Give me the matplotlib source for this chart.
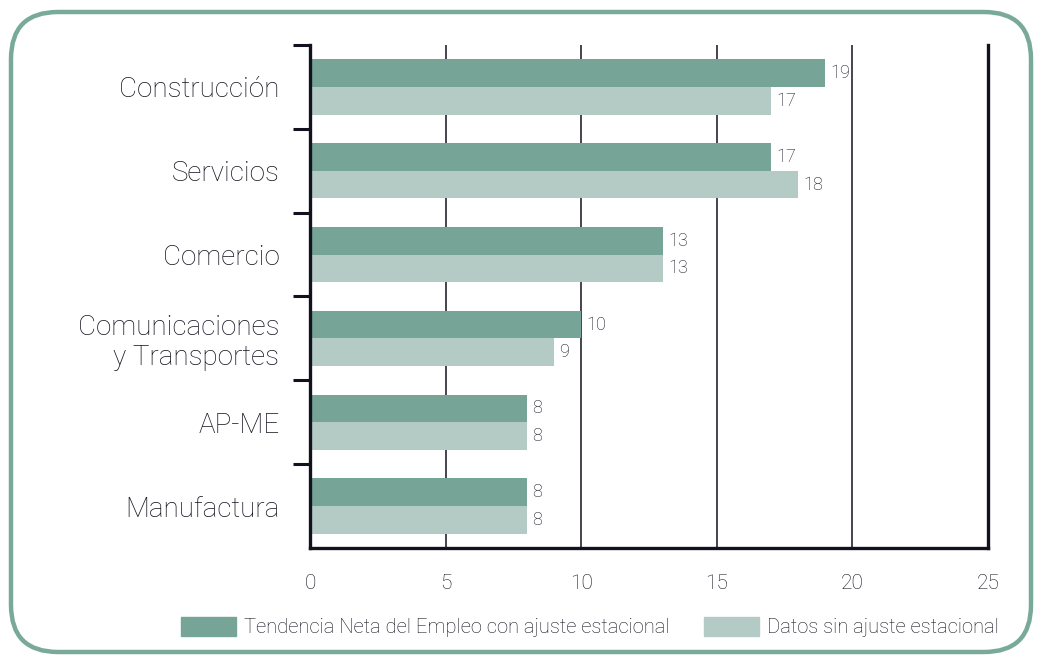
import numpy as np
import matplotlib
matplotlib.use('Agg')
import matplotlib.pyplot as plt
from matplotlib.patches import FancyBboxPatch, Patch

# data
categories = ['Construcción', 'Servicios', 'Comercio',
              'Comunicaciones\ny Transportes', 'AP-ME', 'Manufactura']
ajustado = [19, 17, 13, 10, 8, 8]
sin_ajuste = [17, 18, 13, 9, 8, 8]
series_names = ['Tendencia Neta del Empleo con ajuste estacional',
                'Datos sin ajuste estacional']
xticks = [0, 5, 10, 15, 20, 25]

dark = '#76a598'
light = '#b3cbc4'
ink = '#12121e'

plt.rcParams['font.family'] = ['Roboto', 'DejaVu Sans']
plt.rcParams['font.weight'] = 'light'

W, H = 1044, 663
fig = plt.figure(figsize=(W / 100, H / 100), dpi=100)

# rounded green frame
frame = FancyBboxPatch((11 / W, 11 / H), (1031 - 11) / W, (651 - 11) / H,
                       boxstyle='round,pad=0,rounding_size=0.045',
                       transform=fig.transFigure, fill=False,
                       edgecolor='#79a99a', linewidth=3.2,
                       mutation_aspect=W / H)
fig.patches.append(frame)

ax = fig.add_axes([310 / W, 1 - 548 / H, (988 - 310) / W, (548 - 45) / H])

y = np.arange(len(categories))
h = 0.33
ax.barh(y - h / 2, ajustado, height=h, color=dark, label=series_names[0])
ax.barh(y + h / 2, sin_ajuste, height=h, color=light, label=series_names[1])

for yi, v in zip(y, ajustado):
    ax.text(v + 0.2, yi - h / 2, str(v), va='center', ha='left',
            fontsize=13, color=ink)
for yi, v in zip(y, sin_ajuste):
    ax.text(v + 0.2, yi + h / 2, str(v), va='center', ha='left',
            fontsize=13, color=ink)

ax.set_xlim(0, 25)
ax.set_ylim(len(categories) - 0.5, -0.5)

# vertical grid lines
for xv in xticks[1:-1]:
    ax.axvline(xv, color=ink, linewidth=1.1, zorder=0)

ax.set_xticks(xticks)
ax.set_xticklabels([str(t) for t in xticks], fontsize=15, color=ink)
ax.tick_params(axis='x', length=0, pad=19)

# separator ticks between categories (none at the bottom corner)
ax.set_yticks(np.arange(-0.5, len(categories) - 1), minor=False)
ax.set_yticklabels([])
ax.set_yticks(y, minor=True)
ax.set_yticklabels(categories, minor=True, fontsize=20, color=ink,
                   linespacing=1.1)
ax.tick_params(axis='y', which='major', length=12, width=2.2, color=ink)
ax.tick_params(axis='y', which='minor', length=0, pad=22)

for s in ['left', 'bottom', 'right']:
    ax.spines[s].set_linewidth(2.4)
    ax.spines[s].set_color(ink)
ax.spines['top'].set_visible(False)

fig.legend(handles=[Patch(color=dark, label=series_names[0]),
                    Patch(color=light, label=series_names[1])],
           loc='center', bbox_to_anchor=(590 / W, 1 - 627 / H), ncol=2,
           frameon=False, fontsize=14.5, handlelength=2.7, handleheight=1.1,
           handletextpad=0.4, columnspacing=1.75, labelcolor=ink)

fig.savefig('out.png', dpi=100)
